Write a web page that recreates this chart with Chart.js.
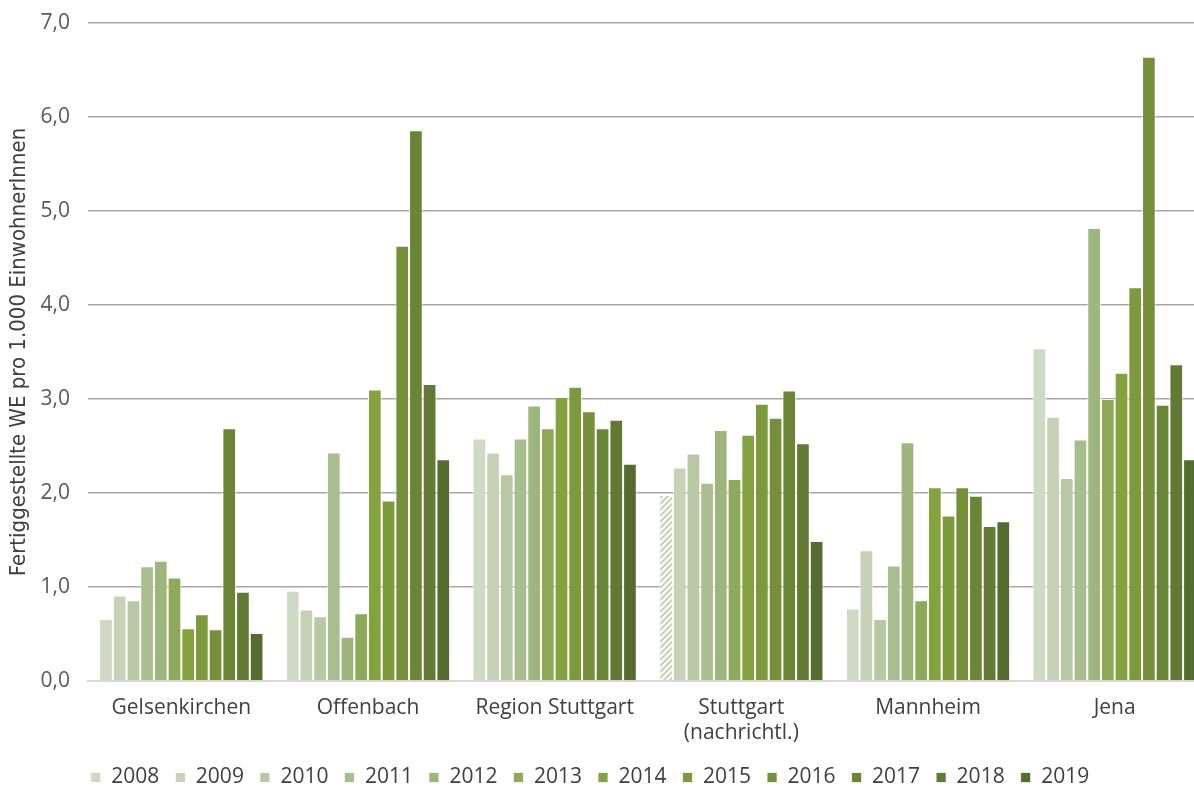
<!DOCTYPE html>
<html>
<head>
<meta charset="utf-8">
<script src="https://cdn.jsdelivr.net/npm/chart.js@4"></script>
<style>
    html, body { margin: 0; padding: 0; background: #fff; overflow: hidden; }
    #wrap { width: 1210px; height: 787px; }
</style>
</head>
<body>
<div id="wrap"><canvas id="wohnChart" width="1210" height="787"></canvas></div>
<script>
// cities (x categories)
const cities = ['Gelsenkirchen', 'Offenbach', 'Region Stuttgart', ['Stuttgart', '(nachrichtl.)'], 'Mannheim', 'Jena'];
const years = ['2008', '2009', '2010', '2011', '2012', '2013', '2014', '2015', '2016', '2017', '2018', '2019'];

// completed flats per 1,000 inhabitants, one array per city (2008..2019)
const gelsenkirchen = [0.66, 0.91, 0.86, 1.22, 1.28, 1.10, 0.56, 0.71, 0.55, 2.69, 0.95, 0.51];
const offenbach     = [0.96, 0.76, 0.69, 2.43, 0.47, 0.72, 3.10, 1.92, 4.63, 5.86, 3.16, 2.36];
const regionStgt    = [2.58, 2.43, 2.20, 2.58, 2.93, 2.69, 3.02, 3.13, 2.87, 2.69, 2.78, 2.31];
const stuttgart     = [1.98, 2.27, 2.42, 2.11, 2.67, 2.15, 2.62, 2.95, 2.80, 3.09, 2.53, 1.49];
const mannheim      = [0.77, 1.39, 0.66, 1.23, 2.54, 0.86, 2.06, 1.76, 2.06, 1.97, 1.65, 1.70];
const jena          = [3.54, 2.81, 2.16, 2.57, 4.82, 3.00, 3.28, 4.19, 6.64, 2.94, 3.37, 2.36];

const yTicks = [0, 1, 2, 3, 4, 5, 6, 7];
const yTitle = 'Fertiggestellte WE pro 1.000 EinwohnerInnen';

const yearColors = [
    '#cfdac5', '#c6d2b6', '#b7c8a3', '#a9be8e', '#9cb67b', '#8daa58',
    '#84a33e', '#7c9a3c', '#768f3a', '#6b8536', '#637a35', '#556c30'
];

const cityRows = [gelsenkirchen, offenbach, regionStgt, stuttgart, mannheim, jena];

// hatched fill for Stuttgart 2008
function makeHatch() {
    const c = document.createElement('canvas');
    c.width = 6; c.height = 6;
    const g = c.getContext('2d');
    g.fillStyle = '#ffffff';
    g.fillRect(0, 0, 6, 6);
    g.strokeStyle = '#c4d2b6';
    g.lineWidth = 2;
    g.beginPath();
    g.moveTo(-1, 7); g.lineTo(7, -1);
    g.moveTo(-1, 1); g.lineTo(1, -1);
    g.moveTo(5, 7); g.lineTo(7, 5);
    g.stroke();
    return g.createPattern(c, 'repeat');
}
const hatch = makeHatch();

const datasets = years.map((y, i) => ({
    label: y,
    data: cityRows.map(row => row[i]),
    backgroundColor: ctx => (i === 0 && ctx.dataIndex === 3) ? hatch : yearColors[i],
    borderColor: 'rgba(255,255,255,0.75)',
    borderWidth: 1,
    categoryPercentage: 0.88,
    barPercentage: 1.0
}));

// legend: fixed height, and moved a bit to the left like the original
const fixLegend = {
    id: 'fixLegend',
    afterInit(chart) {
        const lg = chart.legend;
        const orig = lg.fit.bind(lg);
        lg.fit = function () {
            orig();
            this.height = 36;
        };
    },
    afterLayout(chart) {
        chart.legend.left -= 14;
        chart.legend.right -= 14;
    }
};

// y axis title, centred on the plot area
const yTitlePlugin = {
    id: 'yTitlePlugin',
    afterDraw(chart) {
        const area = chart.chartArea;
        const c = chart.ctx;
        c.save();
        c.translate(19, (area.top + area.bottom) / 2);
        c.rotate(-Math.PI / 2);
        c.fillStyle = '#404040';
        c.font = '22px "DejaVu Sans Condensed"';
        c.textAlign = 'center';
        c.textBaseline = 'middle';
        c.fillText(yTitle, 0, 0);
        c.restore();
    }
};

const ctx = document.getElementById('wohnChart').getContext('2d');
const chart = new Chart(ctx, {
    type: 'bar',
    data: { labels: cities, datasets: datasets },
    plugins: [fixLegend, yTitlePlugin],
    options: {
        responsive: false,
        animation: false,
        layout: { padding: { top: 23, right: 2, left: 0, bottom: 0 } },
        plugins: {
            tooltip: { enabled: false },
            legend: {
                position: 'bottom',
                labels: {
                    boxWidth: 10,
                    boxHeight: 10,
                    padding: 16,
                    color: '#404040',
                    font: { family: 'Open Sans', size: 21 }
                }
            }
        },
        scales: {
            x: {
                grid: { display: false },
                border: { color: '#d9d9d9', width: 2 },
                ticks: {
                    color: '#404040',
                    font: { family: 'Open Sans', size: 21 },
                    padding: 6,
                    maxRotation: 0,
                    autoSkip: false
                },
                afterFit(scale) { scale.height = 70; }
            },
            y: {
                min: 0,
                max: 7,
                afterBuildTicks(scale) { scale.ticks = yTicks.map(v => ({ value: v })); },
                grid: {
                    color: c => c.tick && c.tick.value === 0 ? '#d9d9d9' : '#a6a6a6',
                    lineWidth: 1.5,
                    drawTicks: false
                },
                border: { display: false },
                ticks: {
                    color: '#595959',
                    font: { family: 'Open Sans', size: 21 },
                    padding: 18,
                    callback: v => v.toFixed(1).replace('.', ',')
                },
                afterFit(scale) {
                    scale.width = 88;
                    scale.paddingTop = 0;
                    scale.paddingBottom = 0;
                }
            }
        }
    }
});
</script>
</body>
</html>
